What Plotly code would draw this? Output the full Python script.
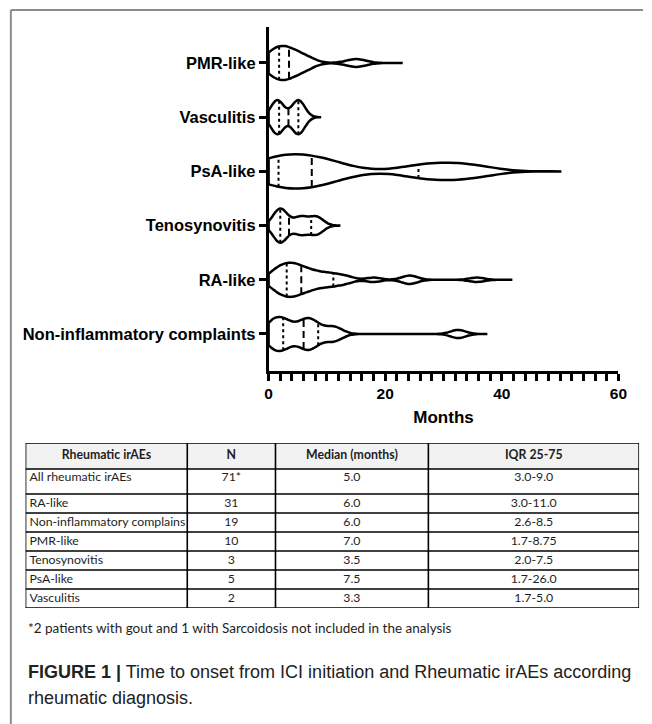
import numpy as np
import plotly.graph_objects as go

# ---------------- data ----------------
categories = ["PMR-like", "Vasculitis", "PsA-like", "Tenosynovitis", "RA-like",
              "Non-inflammatory complaints"]
positions = [6, 5, 4, 3, 2, 1]

# estimated individual onset times (months), read from the violin shapes
pmr_like = [0.3, 1.2, 2.0, 2.8, 3.5, 5.0, 6.5, 15.0]
vasculitis = [1.5, 5.1]
psa_like = [0.3, 3.0, 6.5, 10.5, 27.0, 34.0]
tenosynovitis = [1.8, 2.2, 5.5, 8.2]
ra_like = [0.5, 1.0, 1.5, 2.0, 2.5, 3.0, 3.3, 3.6, 4.0, 4.4, 4.8, 5.2, 5.8, 6.3,
           6.9, 7.5, 8.3, 9.2, 10.2, 11.0, 12.3, 13.6, 18.0, 23.8, 24.6, 35.7]
non_inflammatory = [0.2, 0.8, 1.4, 2.1, 3.0, 3.6, 5.5, 6.2, 6.8, 7.5, 8.4,
                    10.5, 11.8, 32.5]
samples = [pmr_like, vasculitis, psa_like, tenosynovitis, ra_like, non_inflammatory]

bandwidths = [1.7, 1.1, 4.5, 1.2, 1.3, 1.3]
span_max = [23.0, 8.8, 50.0, 12.1, 41.8, 37.3]

# quartile / median lines (months)
q1 = [1.8, 1.8, 1.7, 2.0, 3.1, 2.5]
median = [3.5, 3.4, 7.4, 3.5, 5.6, 6.0]
q3 = [9.8, 5.1, 25.7, 7.3, 11.1, 8.5]

x_ticks = [0, 20, 40, 60]

# table
table_header = ["Rheumatic irAEs", "N", "Median (months)", "IQR 25-75"]
table_groups = ["All rheumatic irAEs", "RA-like", "Non-inflammatory complains", "PMR-like",
                "Tenosynovitis", "PsA-like", "Vasculitis"]
table_n = ["71*", "31", "19", "10", "3", "5", "2"]
table_median = ["5.0", "6.0", "6.0", "7.0", "3.5", "7.5", "3.3"]
table_iqr = ["3.0-9.0", "3.0-11.0", "2.6-8.5", "1.7-8.75", "2.0-7.5", "1.7-26.0", "1.7-5.0"]

footnote = "*2 patients with gout and 1 with Sarcoidosis not included in the analysis"
caption_1 = "<b>FIGURE 1 |</b> Time to onset from ICI initiation and Rheumatic irAEs according"
caption_2 = "rheumatic diagnosis."

# ---------------- layout helpers ----------------
W, H = 652, 724
VIOLIN_WIDTH = 0.63


def px(xp):
    return xp / W


def py(yp):
    return 1 - yp / H


def kde(data, bw, t):
    d = np.asarray(data, dtype=float)[:, None]
    t = np.atleast_1d(np.asarray(t, dtype=float))[None, :]
    return np.exp(-0.5 * ((t - d) / bw) ** 2).sum(axis=0)


fig = go.Figure()

AXFONT = "Liberation Sans, Arial, sans-serif"
TABFONT = "Lato, sans-serif"
TXT = "#1e1e1e"
TAB_SIZE = 12.3

for cat, pos, s, bw, smax, a, m, b in zip(categories, positions, samples, bandwidths,
                                          span_max, q1, median, q3):
    fig.add_trace(go.Violin(
        x=s, y0=pos, orientation="h", name=cat,
        bandwidth=bw, spanmode="manual", span=[0, smax],
        width=VIOLIN_WIDTH, scalemode="width", side="both",
        line=dict(color="black", width=2.5), fillcolor="white",
        points=False, box_visible=False, meanline_visible=False,
        showlegend=False, hoverinfo="skip",
    ))
    n = int(np.ceil(smax / (bw / 3)))
    grid = np.linspace(0, smax, n + 1)
    dmax = kde(s, bw, grid).max()
    for q, dash in ((a, "3px,3px"), (m, "7px,4px"), (b, "3px,3px")):
        h = VIOLIN_WIDTH / 2 * float(kde(s, bw, q)[0]) / dmax
        fig.add_trace(go.Scatter(
            x=[q, q], y=[pos - h, pos + h], mode="lines",
            line=dict(color="black", width=2, dash=dash),
            showlegend=False, hoverinfo="skip",
        ))

# ---------------- table drawn on its own pixel-like axes ----------------
col_edges = [0, 165, 255, 411, 626]          # table-local x (px)
row_edges = [0, 26, 51, 70, 89, 108, 127, 146, 165]  # table-local y (px, downwards)
row_text_y = [13, 34.5] + [(row_edges[i] + row_edges[i + 1]) / 2 for i in range(2, 8)]

columns = [table_groups, table_n, table_median, table_iqr]
for ci, (head, col) in enumerate(zip(table_header, columns)):
    cx = (col_edges[ci] + col_edges[ci + 1]) / 2
    fig.add_trace(go.Scatter(
        x=[cx], y=[row_text_y[0]], mode="text", text=["<b>%s</b>" % head],
        textposition="middle center", xaxis="x2", yaxis="y2",
        textfont=dict(family=TABFONT, size=TAB_SIZE, color=TXT),
        showlegend=False, hoverinfo="skip", cliponaxis=False,
    ))
    if ci == 0:
        xs = [col_edges[0] + 4] * len(col)
        tp = "middle right"
    else:
        xs = [cx] * len(col)
        tp = "middle center"
    fig.add_trace(go.Scatter(
        x=xs, y=row_text_y[1:], mode="text", text=col, textposition=tp,
        xaxis="x2", yaxis="y2",
        textfont=dict(family=TABFONT, size=TAB_SIZE, color=TXT),
        showlegend=False, hoverinfo="skip", cliponaxis=False,
    ))

shapes = [
    dict(type="rect", xref="x2", yref="y2", x0=col_edges[0], x1=col_edges[-1],
         y0=row_edges[0], y1=row_edges[1], fillcolor="#f2f2f2",
         line=dict(width=0), layer="below"),
]
for ry in row_edges:
    shapes.append(dict(type="line", xref="x2", yref="y2", x0=col_edges[0],
                       x1=col_edges[-1], y0=ry, y1=ry,
                       line=dict(color="black", width=1.6)))
for cx in col_edges:
    shapes.append(dict(type="line", xref="x2", yref="y2", x0=cx, x1=cx,
                       y0=row_edges[0], y1=row_edges[-1],
                       line=dict(color="black", width=1.6)))
# page frame
shapes += [
    dict(type="line", xref="paper", yref="paper", x0=px(7), x1=px(7),
         y0=0, y1=py(10), line=dict(color="#8c8c8c", width=2)),
    dict(type="line", xref="paper", yref="paper", x0=px(7), x1=1,
         y0=py(10), y1=py(10), line=dict(color="#8c8c8c", width=2)),
]

fig.update_layout(
    width=W, height=H, margin=dict(l=0, r=0, t=0, b=0),
    paper_bgcolor="white", plot_bgcolor="white",
    violinmode="overlay", showlegend=False,
    xaxis=dict(
        domain=[px(270), px(627)], range=[0, 60], type="linear",
        showline=True, linecolor="black", linewidth=2.5,
        ticks="outside", ticklen=7, tickwidth=2.5, tickcolor="black",
        tickvals=x_ticks, ticktext=[str(v) for v in x_ticks],
        tickfont=dict(family=AXFONT, size=15.5, color="black", weight="bold"),
        minor=dict(dtick=2, ticks="outside", ticklen=7, tickwidth=2.5,
                   tickcolor="black", showgrid=False),
        showgrid=False, zeroline=False, fixedrange=True,
        title=dict(text="Months", standoff=10,
                   font=dict(family=AXFONT, size=17, color="black", weight="bold")),
    ),
    yaxis=dict(
        domain=[py(371), py(27)], range=[0.317, 6.664], type="linear",
        showline=True, linecolor="black", linewidth=2.5,
        ticks="outside", ticklen=7, tickwidth=2.5, tickcolor="black",
        tickvals=positions, ticktext=categories,
        tickfont=dict(family=AXFONT, size=16.5, color="black", weight="bold"),
        showgrid=False, zeroline=False, fixedrange=True,
    ),
    xaxis2=dict(domain=[px(22), px(648)], range=[0, 626], anchor="y2",
                visible=False, fixedrange=True),
    yaxis2=dict(domain=[py(608), py(443)], range=[165, 0], anchor="x2",
                visible=False, fixedrange=True),
    shapes=shapes,
    annotations=[
        dict(text=footnote, xref="paper", yref="paper", x=px(22), y=py(628),
             xanchor="left", yanchor="middle", showarrow=False,
             font=dict(family=TABFONT, size=13.5, color=TXT)),
        dict(text=caption_1, xref="paper", yref="paper", x=px(22), y=py(672),
             xanchor="left", yanchor="middle", showarrow=False,
             font=dict(family=AXFONT, size=18, color="#222222")),
        dict(text=caption_2, xref="paper", yref="paper", x=px(22), y=py(698),
             xanchor="left", yanchor="middle", showarrow=False,
             font=dict(family=AXFONT, size=18, color="#222222")),
    ],
)

fig.write_html("out.html", config={"displayModeBar": False},
               post_script="document.body.style.margin='0px';document.body.style.overflow='hidden';")
